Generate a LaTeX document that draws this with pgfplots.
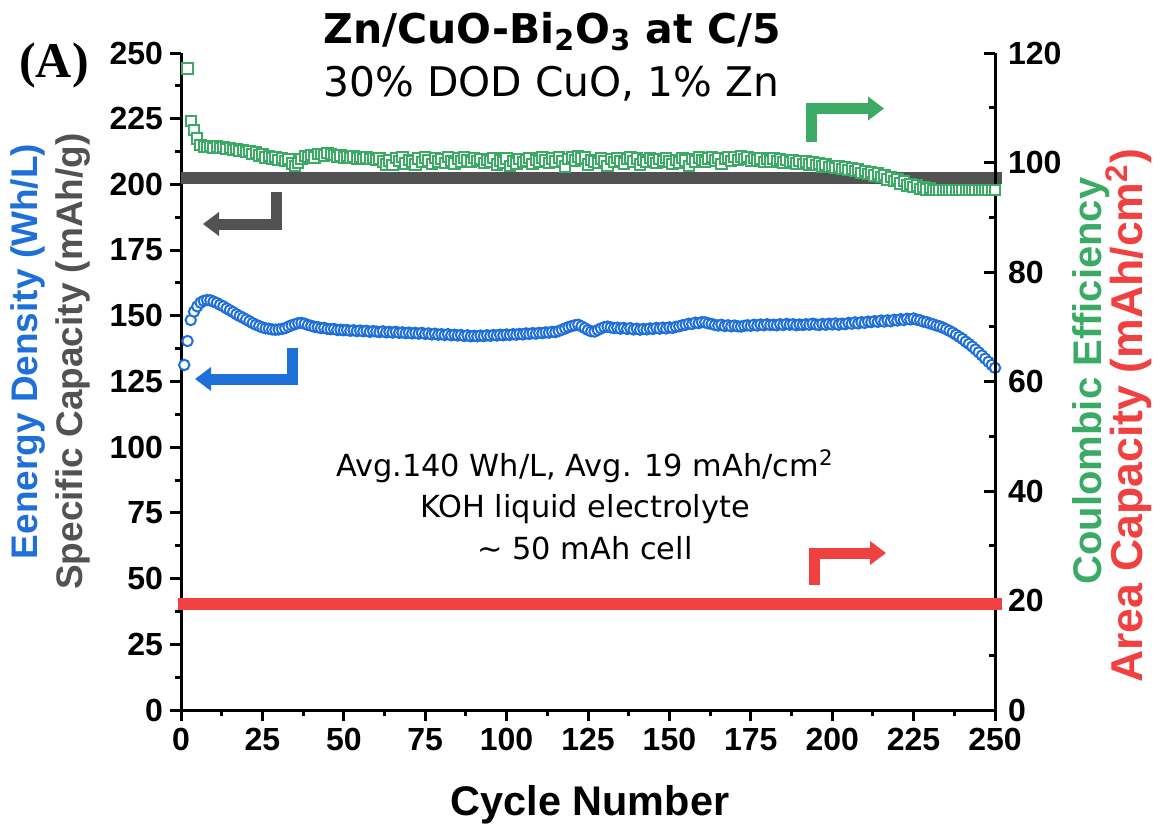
\documentclass[border=0pt]{standalone}
\usepackage{fontspec}
\setmainfont{Liberation Sans}
\newfontfamily\titlefont{DejaVu Sans}
\newfontfamily\serifA{Liberation Serif}
\usepackage{pgfplots}
\pgfplotsset{compat=1.18}
\usepackage{pgfplotstable}
\usetikzlibrary{arrows.meta}
\definecolor{cblue}{RGB}{31,111,217}
\definecolor{cgreen}{RGB}{58,170,100}
\definecolor{cred}{RGB}{240,64,64}
\definecolor{cgray}{RGB}{82,82,82}

\pgfplotstableread{
x y
1 131.3
2 140.4
3 148.4
4 151.6
5 153.6
6 155.0
7 155.7
8 156.0
9 155.9
10 155.4
11 154.9
12 154.2
13 153.6
14 152.8
15 152.1
16 151.4
17 150.6
18 149.9
19 149.3
20 148.6
21 147.9
22 147.2
23 146.6
24 146.1
25 145.6
26 145.2
27 145.1
28 144.8
29 144.7
30 144.8
31 145.0
32 145.3
33 145.9
34 146.4
35 146.8
36 147.2
37 147.3
38 147.0
39 146.5
40 146.2
41 145.8
42 145.7
43 145.3
44 145.4
45 145.0
46 144.9
47 145.0
48 144.6
49 144.7
50 144.5
51 144.6
52 144.3
53 144.5
54 144.2
55 144.4
56 144.1
57 144.3
58 143.9
59 144.2
60 144.0
61 143.8
62 144.1
63 143.7
64 143.9
65 143.6
66 143.9
67 143.5
68 143.7
69 143.4
70 143.6
71 143.3
72 143.5
73 143.2
74 143.5
75 143.1
76 143.3
77 142.9
78 143.2
79 142.8
80 143.0
81 142.7
82 143.0
83 142.6
84 142.8
85 142.5
86 142.7
87 142.3
88 142.6
89 142.2
90 142.4
91 142.2
92 142.5
93 142.3
94 142.6
95 142.4
96 142.7
97 142.5
98 142.8
99 142.6
100 142.9
101 142.7
102 143.0
103 142.8
104 143.1
105 142.9
106 143.3
107 143.1
108 143.4
109 143.2
110 143.5
111 143.4
112 143.7
113 143.6
114 143.9
115 143.8
116 144.2
117 144.7
118 145.2
119 145.7
120 146.1
121 146.4
122 146.6
123 146.0
124 145.3
125 144.6
126 144.1
127 144.0
128 144.6
129 145.2
130 145.7
131 145.9
132 145.6
133 145.3
134 145.5
135 145.1
136 145.4
137 145.0
138 145.3
139 144.8
140 145.1
141 144.7
142 145.0
143 144.8
144 145.2
145 145.0
146 145.4
147 145.1
148 145.5
149 145.2
150 145.6
151 145.4
152 145.8
153 146.0
154 146.4
155 146.6
156 147.0
157 146.9
158 147.4
159 147.2
160 147.6
161 147.5
162 147.1
163 146.9
164 146.5
165 146.3
166 146.6
167 146.1
168 146.4
169 146.0
170 146.3
171 146.0
172 145.9
173 146.2
174 146.4
175 146.2
176 146.6
177 146.3
178 146.7
179 146.4
180 146.8
181 146.5
182 146.6
183 146.4
184 146.8
185 146.5
186 146.9
187 146.6
188 146.8
189 146.4
190 146.7
191 146.5
192 146.8
193 146.6
194 147.0
195 146.7
196 146.5
197 146.9
198 146.6
199 147.0
200 146.7
201 147.1
202 146.6
203 147.0
204 146.8
205 147.3
206 147.0
207 147.5
208 147.1
209 147.6
210 147.3
211 147.8
212 147.6
213 148.0
214 147.7
215 148.2
216 147.8
217 148.3
218 147.9
219 148.5
220 148.2
221 148.7
222 148.4
223 148.9
224 148.6
225 149.0
226 148.5
227 148.3
228 147.8
229 147.6
230 147.1
231 146.8
232 146.3
233 146.0
234 145.5
235 144.9
236 144.3
237 143.6
238 142.8
239 142.0
240 141.2
241 140.2
242 139.3
243 138.3
244 137.2
245 136.1
246 134.9
247 133.7
248 132.5
249 131.3
250 130.2
}\energy

\pgfplotstableread{
x y
2 117.2
3 107.6
4 105.9
5 104.4
6 103.2
7 102.9
8 102.8
9 103.0
10 102.7
11 102.9
12 102.6
13 102.8
14 102.5
15 102.7
16 102.3
17 102.5
18 102.1
19 102.3
20 101.9
21 102.1
22 101.6
23 101.8
24 101.3
25 101.5
26 100.9
27 101.2
28 100.7
29 101.0
30 100.5
31 100.8
32 100.3
33 100.6
34 99.8
35 99.4
36 99.9
37 100.6
38 101.2
39 101.0
40 101.4
41 100.9
42 101.5
43 101.6
44 101.3
45 101.7
46 101.5
47 101.4
48 101.0
49 101.3
50 100.9
51 101.2
52 100.8
53 101.1
54 100.7
55 101.0
56 100.6
57 100.9
58 100.6
59 100.8
60 100.5
61 100.7
62 100.2
63 99.6
64 100.4
65 99.5
66 100.8
67 100.3
68 101.0
69 99.8
70 100.5
71 100.2
72 99.6
73 100.7
74 100.1
75 100.9
76 100.4
77 99.7
78 100.8
79 100.2
80 100.6
81 99.9
82 101.0
83 100.3
84 99.8
85 100.7
86 100.2
87 100.9
88 100.4
89 100.1
90 100.8
91 100.3
92 100.6
93 99.9
94 100.5
95 100.2
96 100.8
97 99.6
98 100.4
99 100.0
100 100.7
101 99.4
102 100.3
103 99.8
104 100.6
105 100.1
106 100.4
107 100.8
108 99.7
109 100.5
110 100.2
111 100.9
112 100.4
113 99.9
114 100.7
115 100.2
116 100.9
117 100.3
118 99.3
119 100.6
120 101.0
121 100.4
122 101.1
123 100.7
124 100.9
125 99.6
126 100.5
127 100.2
128 99.9
129 100.7
130 100.3
131 99.4
132 100.6
133 100.1
134 100.8
135 100.3
136 99.8
137 100.6
138 100.9
139 100.2
140 100.7
141 99.6
142 100.5
143 100.1
144 100.8
145 100.4
146 99.9
147 100.6
148 100.3
149 100.8
150 100.2
151 99.7
152 100.5
153 100.0
154 100.8
155 100.4
156 99.4
157 100.6
158 100.2
159 100.9
160 100.5
161 100.1
162 100.7
163 101.0
164 100.4
165 100.8
166 99.7
167 100.6
168 100.9
169 100.3
170 101.0
171 100.5
172 101.1
173 100.6
174 101.0
175 100.3
176 100.8
177 100.4
178 100.7
179 100.1
180 100.6
181 100.2
182 100.7
183 100.3
184 100.6
185 100.0
186 100.5
187 100.1
188 100.4
189 99.8
190 100.3
191 99.7
192 100.2
193 99.6
194 100.0
195 99.5
196 99.8
197 99.3
198 99.6
199 99.2
200 99.4
201 99.0
202 99.3
203 98.8
204 99.1
205 98.6
206 98.9
207 98.4
208 98.7
209 98.1
210 98.5
211 97.9
212 98.3
213 97.6
214 98.0
215 97.3
216 97.7
217 96.9
218 97.4
219 96.6
220 97.0
221 96.2
222 96.6
223 95.8
224 96.1
225 95.5
226 95.8
227 95.2
228 95.5
229 95.1
230 95.3
231 95.0
232 95.0
233 95.0
234 95.0
235 95.0
236 95.0
237 95.0
238 95.0
239 95.0
240 95.0
241 95.0
242 95.0
243 95.0
244 95.0
245 95.0
246 95.0
247 95.0
248 95.0
249 95.0
250 95.0
}\ce

\pgfplotsset{
  every axis/.append style={
    scale only axis, width=407pt, height=328.5pt,
    at={(90.5pt,-355pt)}, anchor=south west,
    clip=false,
    axis line style={line width=1.5pt,-},
    tick style={line width=1.5pt,black},
    major tick length=5.5pt, minor tick length=3pt,
    tick label style={font=\bfseries\fontsize{16}{16}\selectfont},
    /pgf/number format/assume math mode=true,
  }
}

\begin{document}
\begin{tikzpicture}[x=0.5pt,y=-0.5pt]
\path[use as bounding box] (0,0) rectangle (1155,829);

\begin{axis}[
  xmin=0, xmax=250, ymin=0, ymax=250,
  axis x line*=bottom, axis y line*=left,
  tick align=outside,
  xtick={0,25,...,250}, ytick={0,25,...,250},
  minor x tick num=1, minor y tick num=1,
]
\addplot[cgray, line width=6pt] coordinates {(0,202.3) (252,202.3)};
\addplot[only marks, mark=*, mark size=2.6pt,
  mark options={draw=cblue, fill=white, line width=1pt}] table[x=x,y=y] {\energy};
\end{axis}

\begin{axis}[
  xmin=0, xmax=250, ymin=0, ymax=120,
  axis x line=none, axis y line*=right,
  tick align=inside,
  ytick={0,20,...,120}, minor y tick num=1,
  yticklabel style={xshift=3pt},
]
\addplot[cred, line width=6pt] coordinates {(-1,19.36) (252,19.36)};
\addplot[only marks, mark=square*, mark size=2.6pt,
  mark options={draw=cgreen, fill=white, line width=1pt}] table[x=x,y=y] {\ce};
\end{axis}

% arrows
\draw[cgray, line width=5.5pt, line join=miter, -{Triangle[length=8pt,width=11.5pt]}]
  (276.7,191.7) -- (276.7,224) -- (203,224);
\draw[cblue, line width=5.5pt, line join=miter, -{Triangle[length=8pt,width=11.5pt]}]
  (292.5,348.3) -- (292.5,379) -- (195,379);
\draw[cgreen, line width=5.5pt, line join=miter, -{Triangle[length=8pt,width=11.5pt]}]
  (811,141.7) -- (811,108.5) -- (884,108.5);
\draw[cred, line width=5.5pt, line join=miter, -{Triangle[length=8pt,width=11.5pt]}]
  (814,585) -- (814,553) -- (886,553);

% titles
\node[font=\titlefont\bfseries\fontsize{20.5}{20.5}\selectfont, anchor=base] at (552,43.3)
  {Zn/CuO-Bi\textsubscript{2}O\textsubscript{3} at C/5};
\node[font=\titlefont\fontsize{20.4}{20.4}\selectfont, anchor=base] at (551.5,96.7)
  {30\% DOD CuO, 1\% Zn};
\node[font=\serifA\bfseries\fontsize{25}{25}\selectfont, anchor=base] at (54,78) {(A)};

% annotation
\node[font=\titlefont\fontsize{15.2}{15.2}\selectfont, anchor=base] at (585,476)
  {Avg.140 Wh/L, Avg. 19 mAh/cm\textsuperscript{2}};
\node[font=\titlefont\fontsize{15.2}{15.2}\selectfont, anchor=base] at (585,517)
  {KOH liquid electrolyte};
\node[font=\titlefont\fontsize{15.2}{15.2}\selectfont, anchor=base] at (585,559)
  {\textasciitilde{} 50 mAh cell};

% axis labels
\node[font=\bfseries\fontsize{20.7}{20.7}\selectfont] at (590,805) {Cycle Number};
\node[font=\bfseries\fontsize{18.5}{18.5}\selectfont, rotate=90, cblue] at (28,351.5)
  {Eenergy Density (Wh/L)};
\node[font=\bfseries\fontsize{18.5}{18.5}\selectfont, rotate=90, cgray] at (73,361.5)
  {Specific Capacity (mAh/g)};
\node[font=\bfseries\fontsize{20}{20}\selectfont, rotate=90, cgreen] at (1091,381)
  {Coulombic Efficiency};
\node[font=\bfseries\fontsize{22.3}{22.3}\selectfont, rotate=90, cred] at (1129,416)
  {Area Capacity (mAh/cm\textsuperscript{2})};
\end{tikzpicture}
\end{document}
